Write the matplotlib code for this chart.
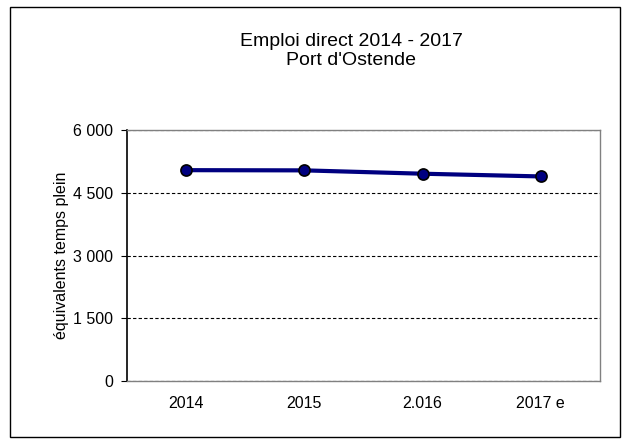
import matplotlib.pyplot as plt
from matplotlib.patches import Rectangle
from matplotlib.ticker import FuncFormatter

plt.rcParams['font.family'] = ['Liberation Sans', 'DejaVu Sans']

# data
annees = ['2014', '2015', '2.016', '2017 e']
emploi = [5040, 5035, 4955, 4890]
yticks = [0, 1500, 3000, 4500, 6000]

fig = plt.figure(figsize=(6.28, 4.44), dpi=100)
# outer chart frame
fig.patches.append(Rectangle((10 / 628, 7 / 444), 610 / 628, 430 / 444,
                             transform=fig.transFigure, fill=False,
                             edgecolor='black', linewidth=1))

ax = fig.add_axes([127 / 628, 1 - 381 / 444, 473 / 628, 251 / 444])

x = range(len(annees))
ax.plot(x, emploi, color='#000080', linewidth=3, marker='o', markersize=8,
        markerfacecolor='#000080', markeredgecolor='black', markeredgewidth=1.2,
        zorder=5)

ax.set_xlim(-0.5, len(annees) - 0.5)
ax.set_ylim(0, 6000)
ax.set_xticks(list(x))
ax.set_xticklabels(annees, fontsize=11.5)
ax.set_yticks(yticks)
ax.yaxis.set_major_formatter(FuncFormatter(lambda v, p: f'{int(v):,}'.replace(',', ' ')))
ax.tick_params(axis='y', labelsize=11.5, length=4, pad=6, direction='out', color='black')
ax.tick_params(axis='x', length=0, pad=11)

ax.grid(axis='y', color='black', linestyle='--', linewidth=0.8, dashes=(3, 2))
ax.set_axisbelow(True)

for s in ['top', 'right', 'bottom']:
    ax.spines[s].set_color('#808080')
    ax.spines[s].set_linewidth(1)
ax.spines['left'].set_color('black')
ax.spines['left'].set_linewidth(1.2)

ax.set_ylabel('équivalents temps plein', fontsize=11.5, labelpad=3)

fig.text(351 / 628, 1 - 51 / 444, "Emploi direct 2014 - 2017\nPort d'Ostende",
         ha='center', va='center', fontsize=14, linespacing=1.15)

fig.savefig('out.png', dpi=100)
